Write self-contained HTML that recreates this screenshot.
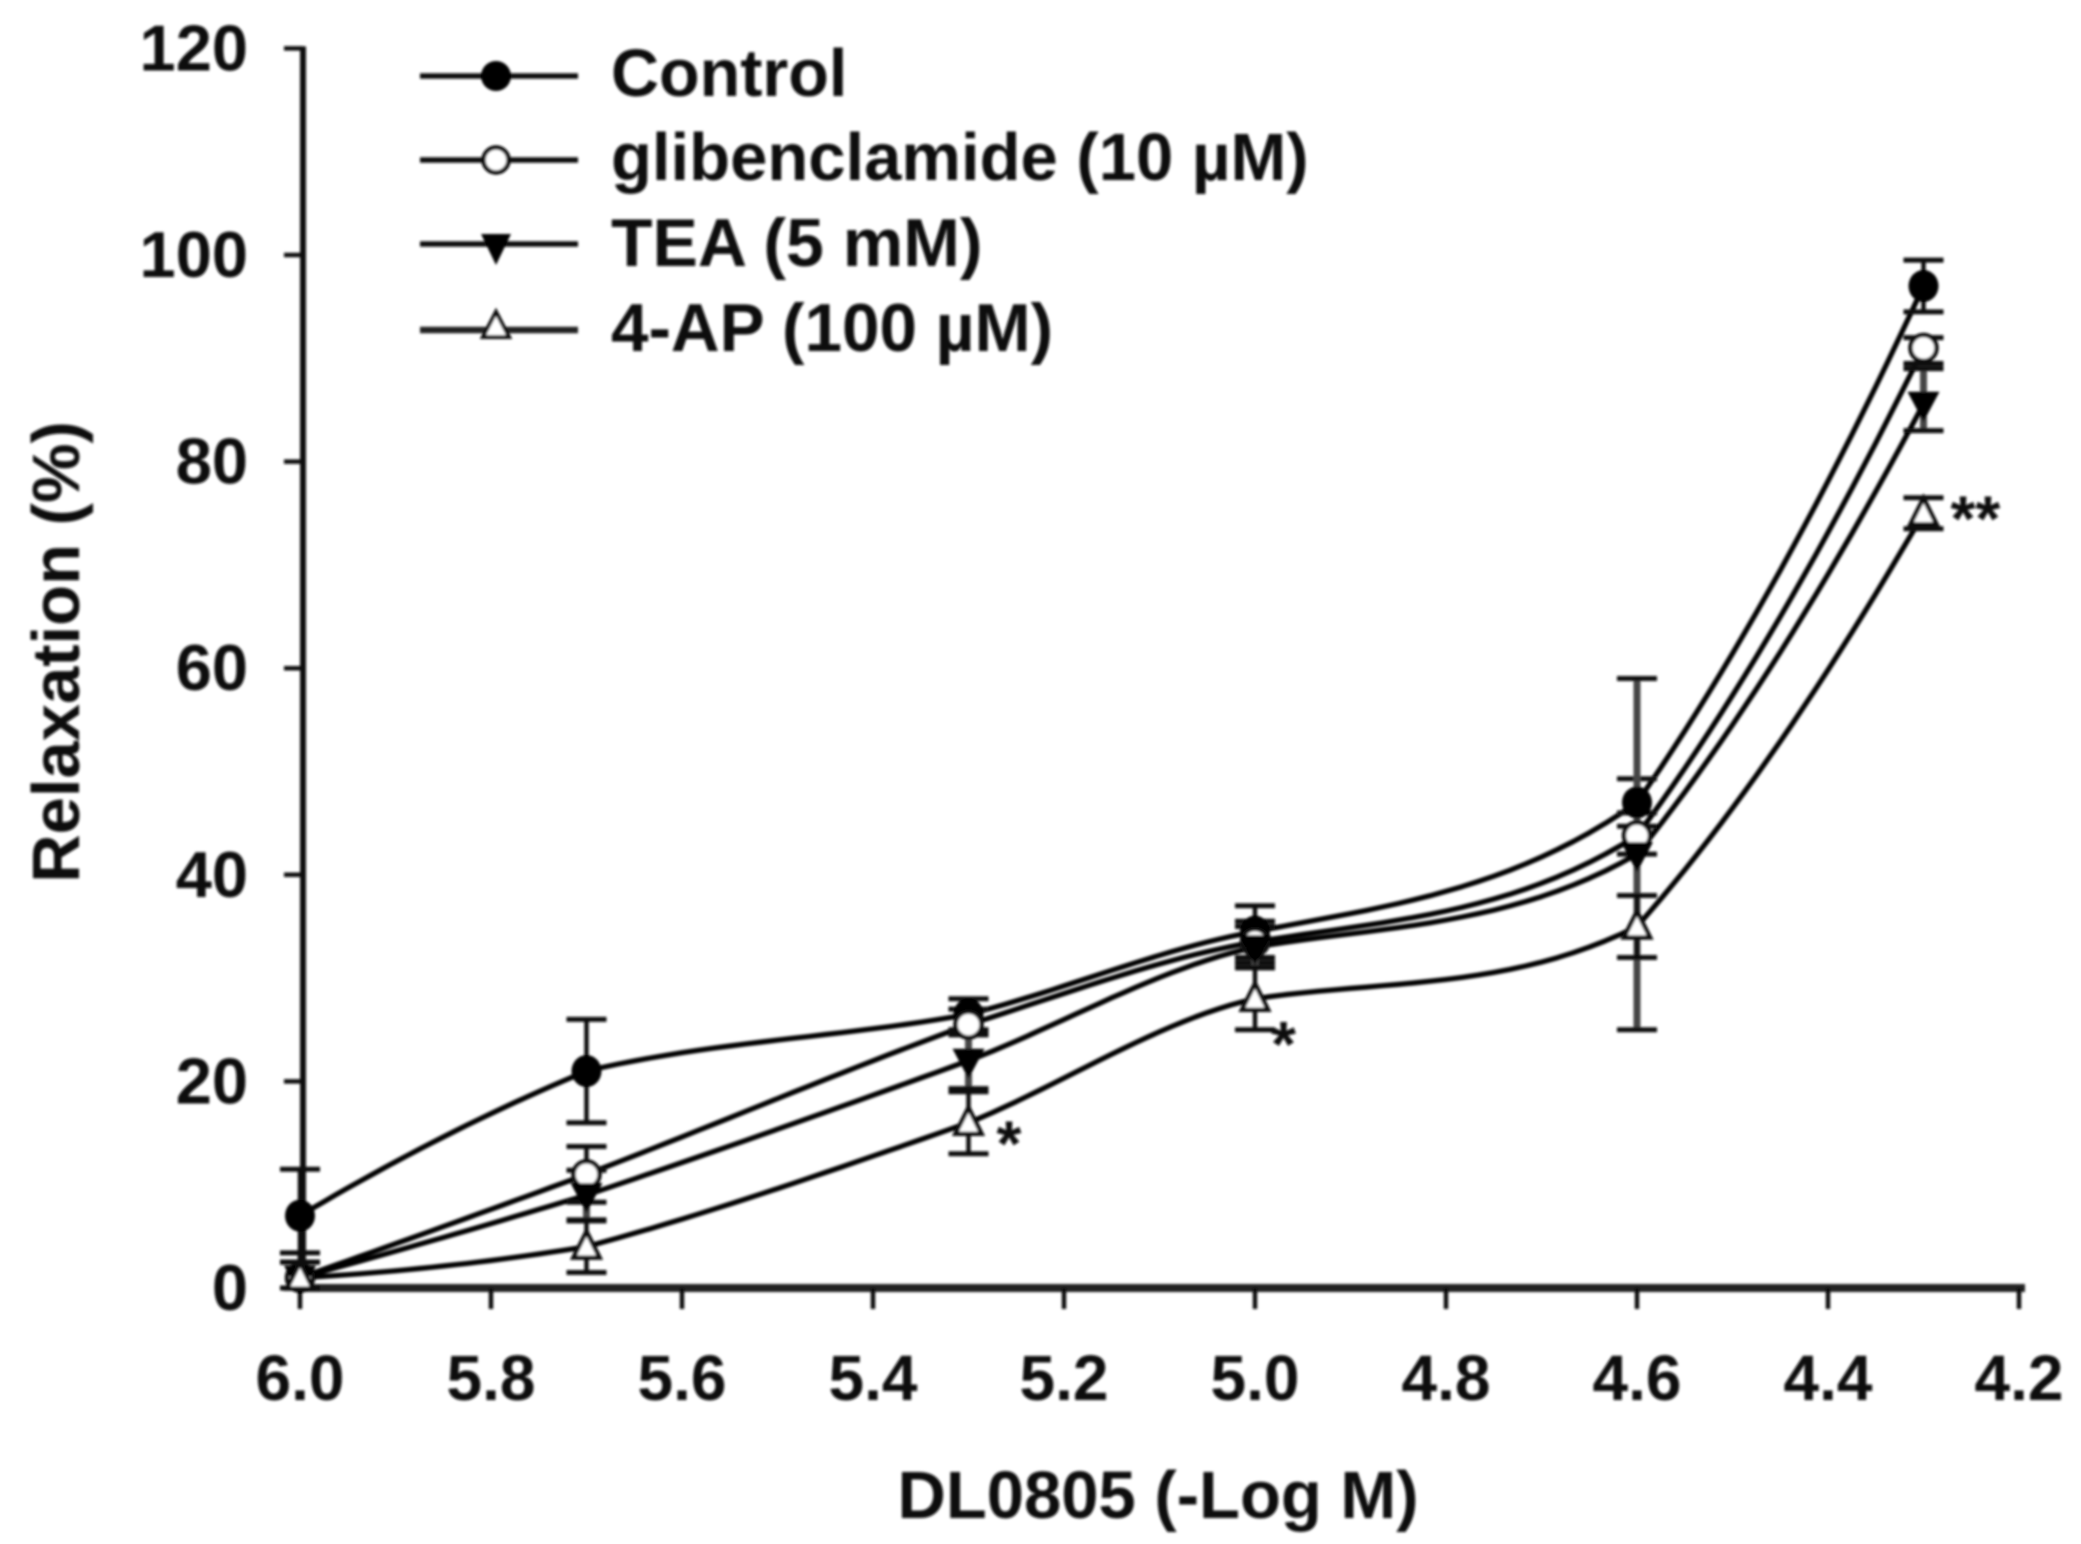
<!DOCTYPE html>
<html lang="en">
<head>
<meta charset="utf-8">
<title>DL0805 relaxation chart</title>
<style>
html,body{margin:0;padding:0;background:#fff;width:2081px;height:1544px;overflow:hidden}
svg{display:block}
text{font-family:"Liberation Sans",Arial,sans-serif;font-weight:bold;fill:#111}
</style>
</head>
<body>
<svg id="chart" xmlns="http://www.w3.org/2000/svg" width="2081" height="1544" viewBox="0 0 2081 1544">
  <defs><filter id="soft" x="-2%" y="-2%" width="104%" height="104%"><feGaussianBlur stdDeviation="1.2"/></filter></defs>
  <rect width="2081" height="1544" fill="#fff"/>
  <g id="root" filter="url(#soft)">
    <g id="axes"></g>
    <g id="plot"></g>
    <text font-size="67" text-anchor="middle" transform="translate(79 652) rotate(-90)">Relaxation (%)</text>
    <text font-size="67" text-anchor="middle" x="1158" y="1518">DL0805 (-Log M)</text>
    <g>
      <g>
        <line x1="420" x2="578" y1="76" y2="76" stroke="#111" stroke-width="5.5"/>
        <circle cx="496" cy="76" r="15" fill="#000"/>
        <text font-size="66.5" x="611" y="96">Control</text>
      </g>
      <g>
        <line x1="420" x2="578" y1="160" y2="160" stroke="#111" stroke-width="5.5"/>
        <circle cx="496" cy="160" r="12.5" fill="#fff" stroke="#111" stroke-width="4.5"/>
        <text font-size="67" x="611" y="180">glibenclamide (10 µM)</text>
      </g>
      <g>
        <line x1="420" x2="578" y1="244" y2="244" stroke="#111" stroke-width="5.5"/>
        <polygon points="481,234 511,234 496,265" fill="#000"/>
        <text font-size="68" x="611" y="266">TEA (5 mM)</text>
      </g>
      <g>
        <line x1="420" x2="578" y1="330" y2="330" stroke="#222" stroke-width="6.5"/>
        <polygon points="496,312 509,337 483,337" fill="#fff" stroke="#111" stroke-width="4"/>
        <text font-size="67.4" x="611" y="351">4-AP (100 µM)</text>
      </g>
    </g>
  </g>
</svg>
<script>
// ---- chart data ----
var doses = [6.0, 5.7, 5.3, 5.0, 4.6, 4.3];
var xTickLabels = ['6.0','5.8','5.6','5.4','5.2','5.0','4.8','4.6','4.4','4.2'];
var yTickLabels = ['0','20','40','60','80','100','120'];

var controlValues = [7, 21, 26.5, 34.5, 47, 97];
var controlUpper  = [11.5, 26, 28, 37, 49.3, 99.5];
var controlLower  = [2.5, 16, 25, 32, 44.7, 94.5];

var glibValues = [1, 11, 25.5, 33.5, 43.8, 91];
var glibUpper  = [3.4, 13.7, 27, 35.5, 46, 92];
var glibLower  = [0, 8.3, 24.5, 31.5, 42, 89.5];

var teaValues = [1, 9, 22, 33, 42, 85.6];
var teaUpper  = [2.5, 11.4, 24.7, 35, 59, 89];
var teaLower  = [0, 6.6, 19.3, 31, 25, 83];

var apValues = [1, 4, 16, 28, 35, 75];
var apUpper  = [2.5, 6.5, 19, 31, 38, 76.5];
var apLower  = [0, 1.5, 13, 25, 32, 73.5];

var apSignificance = ['', '', '*', '*', '', '**'];

// ---- axis functions ----
function xScale(v){ return 300 + (6 - v) * 955; }
function yScale(v){ return 1288 - v * 10.33; }

var NS = 'http://www.w3.org/2000/svg';
var axes = document.getElementById('axes');
var plot = document.getElementById('plot');

function make(tag, parent, props){
  var el = document.createElementNS(NS, tag);
  for (var k in props) el.setAttribute(k, props[k]);
  parent.appendChild(el);
  return el;
}

// piecewise Hermite curve through a series, with slightly eased knots
function curvePath(ds, ys){
  var n = ds.length, sec = [], left = [], right = [], i;
  for (i = 0; i < n - 1; i++) sec[i] = (ys[i + 1] - ys[i]) / (ds[i] - ds[i + 1]);
  for (i = 1; i < n - 1; i++){
    var mean = (sec[i - 1] + sec[i]) / 2;
    var ease = i === 3 ? 0.6 : 1;
    left[i] = ease * (mean + 0.5 * (sec[i - 1] - mean));
    right[i] = ease * (mean + 0.5 * (sec[i] - mean));
  }
  right[0] = 1.5 * sec[0] - 0.5 * ((sec[0] + sec[1]) / 2);
  left[n - 1] = 1.2 * sec[n - 2];
  var out = 'M' + xScale(ds[0]).toFixed(1) + ' ' + yScale(ys[0]).toFixed(1);
  for (i = 0; i < n - 1; i++){
    var h = ds[i] - ds[i + 1];
    for (var s = 1; s <= 24; s++){
      var u = s / 24, u2 = u * u, u3 = u2 * u;
      var v = (2 * u3 - 3 * u2 + 1) * ys[i] + (u3 - 2 * u2 + u) * h * right[i] +
              (3 * u2 - 2 * u3) * ys[i + 1] + (u3 - u2) * h * left[i + 1];
      out += 'L' + xScale(ds[i] - h * u).toFixed(1) + ' ' + yScale(v).toFixed(1);
    }
  }
  return out;
}

// ---- axes ----
var yAxisLine = make('line', axes, {x1:303, x2:303, y1:yScale(120) - 2, y2:yScale(0), stroke:'#111', 'stroke-width':6});


var xAxisLine = make('line', axes, {x1:299, x2:xScale(4.2) + 6, y1:yScale(0), y2:yScale(0), stroke:'#222', 'stroke-width':8});



yTickLabels.forEach(function(lab){
  var v = parseFloat(lab);
  var tick = make('line', axes, {x1:284, x2:303, y1:yScale(v), y2:yScale(v), stroke:'#111', 'stroke-width':4.5});
  
  
  var label = make('text', axes, {x:248, y:yScale(v) + 22, 'font-size':65, 'text-anchor':'end'});
  label.textContent = lab;
  
  
});

xTickLabels.forEach(function(lab){
  var v = parseFloat(lab);
  var tick = make('line', axes, {x1:xScale(v), x2:xScale(v), y1:yScale(0), y2:1309, stroke:'#111', 'stroke-width':4.5});
  
  
  var label = make('text', axes, {x:xScale(v), y:1400, 'font-size':64, 'text-anchor':'middle'});
  label.textContent = lab;
  
  
});

// ---- series ----
var seriesList = [
  {slug:'control', values:controlValues, upper:controlUpper, lower:controlLower, marker:'filled-circle', stem:4.5, tone:'#111'},
  {slug:'glibenclamide', values:glibValues, upper:glibUpper, lower:glibLower, marker:'open-circle', stem:4.5, tone:'#111'},
  {slug:'tea', values:teaValues, upper:teaUpper, lower:teaLower, marker:'filled-triangle', stem:7, tone:'#444'},
  {slug:'4-ap', values:apValues, upper:apUpper, lower:apLower, marker:'open-triangle', stem:4.5, tone:'#111'}
];

seriesList.forEach(function(series){
  var line = make('path', plot, {d:curvePath(doses, series.values), fill:'none', stroke:'#000', 'stroke-width':5.2, 'stroke-linejoin':'round'});
  
  
});

seriesList.forEach(function(series){
  doses.forEach(function(d, i){
    var cx = xScale(d);
    var stemLine = make('line', plot, {x1:cx, x2:cx, y1:yScale(series.upper[i]), y2:yScale(series.lower[i]), stroke:series.tone, 'stroke-width':series.stem});
    
    
    var capTop = make('line', plot, {x1:cx - 20, x2:cx + 20, y1:yScale(series.upper[i]), y2:yScale(series.upper[i]), stroke:'#111', 'stroke-width':5});
    
    
    var capLow = make('line', plot, {x1:cx - 20, x2:cx + 20, y1:yScale(series.lower[i]), y2:yScale(series.lower[i]), stroke:'#111', 'stroke-width':5});
    
    
  });
});

seriesList.forEach(function(series){
  doses.forEach(function(d, i){
    var cx = xScale(d), cy = yScale(series.values[i]), m;
    if (series.marker === 'filled-circle'){
      m = make('ellipse', plot, {cx:cx, cy:cy, rx:15, ry:16, fill:'#000'});
    } else if (series.marker === 'open-circle'){
      m = make('circle', plot, {cx:cx, cy:cy, r:13, fill:'#fff', stroke:'#111', 'stroke-width':4.5});
    } else if (series.marker === 'filled-triangle'){
      m = make('polygon', plot, {points:(cx - 16) + ',' + (cy - 12) + ' ' + (cx + 16) + ',' + (cy - 12) + ' ' + cx + ',' + (cy + 18), fill:'#000'});
    } else {
      m = make('polygon', plot, {points:cx + ',' + (cy - 15) + ' ' + (cx + 13) + ',' + (cy + 11) + ' ' + (cx - 13) + ',' + (cy + 11), fill:'#fff', stroke:'#111', 'stroke-width':4.5});
    }
    
    
  });
});

// ---- significance marks, placed relative to the 4-AP points ----
apSignificance.forEach(function(mark, i){
  if (!mark) return;
  var dx = mark === '**' ? 27 : 28 + (i === 2 ? 0 : -12);
  var dy = i === 2 ? 43 : (i === 3 ? 67 : 27);
  var star = make('text', plot, {x:xScale(doses[i]) + dx, y:yScale(apValues[i]) + dy, 'font-size':64});
  star.textContent = mark;
  
  
});
</script>
</body>
</html>
